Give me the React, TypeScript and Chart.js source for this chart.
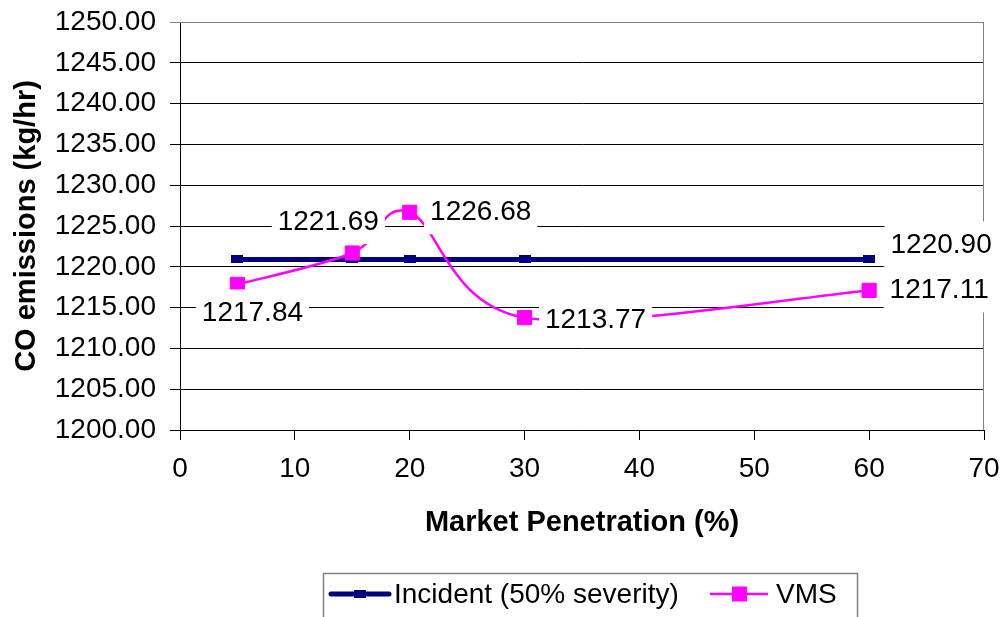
import React, { useEffect, useRef } from "react";
import { Chart, registerables } from "chart.js";

Chart.register(...registerables);

// ---- Data ----
const marketPenetration = [5, 15, 20, 30, 60];
const incidentValues = [1220.9, 1220.9, 1220.9, 1220.9, 1220.9];
const vmsValues = [1217.84, 1221.69, 1226.68, 1213.77, 1217.11];
const seriesNames = ["Incident (50% severity)", "VMS"];
const xTitle = "Market Penetration (%)";
const yTitle = "CO emissions (kg/hr)";
const yMin = 1200;
const yMax = 1250;
const yStep = 5;
const xMin = 0;
const xMax = 70;
const xStep = 10;

// Which data labels are shown (dataset index, point index) and their placement relative to the point
const shownLabels = [
  { ds: 1, idx: 0, dx: 15, dy: 28 },
  { ds: 1, idx: 1, dx: -24, dy: -32 },
  { ds: 1, idx: 2, dx: 71, dy: -1 },
  { ds: 1, idx: 3, dx: 71, dy: 2 },
  { ds: 1, idx: 4, dx: 70, dy: -1 },
  { ds: 0, idx: 4, dx: 72, dy: -15 },
];

const NAVY = "#000080";
const MAGENTA = "#FF00FF";
const FONT = "'Liberation Sans', Arial, Helvetica, sans-serif";

function makeDashMarker(): HTMLCanvasElement {
  const c = document.createElement("canvas");
  c.width = 12;
  c.height = 8;
  const g = c.getContext("2d")!;
  g.fillStyle = NAVY;
  g.fillRect(0, 0, 12, 8);
  return c;
}

// Spreadsheet-style smoothing (Catmull-Rom, 1/6 of neighbour chord) for the VMS line
const smoothPlugin = {
  id: "spreadsheetSmooth",
  beforeDatasetDraw(chart: any, args: any) {
    if (args.index !== 1) return;
    const meta = args.meta;
    const pts = meta.data;
    const n = pts.length;
    for (let i = 0; i < n; i++) {
      const p = pts[i];
      const prev = pts[Math.max(0, i - 1)];
      const next = pts[Math.min(n - 1, i + 1)];
      const dx = (next.x - prev.x) / 6;
      const dy = (next.y - prev.y) / 6;
      p.cp1x = p.x - dx;
      p.cp1y = p.y - dy;
      p.cp2x = p.x + dx;
      p.cp2y = p.y + dy;
    }
    if (meta.dataset) meta.dataset._pointsUpdated = true;
  },
};

const frameBorderPlugin = {
  id: "frameBorder",
  beforeDatasetsDraw(chart: any) {
    const { ctx, chartArea } = chart;
    ctx.save();
    ctx.strokeStyle = "#808080";
    ctx.lineWidth = 1;
    ctx.beginPath();
    ctx.moveTo(chartArea.left, chartArea.top + 0.5);
    ctx.lineTo(chartArea.right - 0.5, chartArea.top + 0.5);
    ctx.lineTo(chartArea.right - 0.5, chartArea.bottom);
    ctx.stroke();
    ctx.restore();
  },
};

const dataLabelPlugin = {
  id: "dataLabels",
  afterDatasetsDraw(chart: any) {
    const { ctx } = chart;
    ctx.save();
    ctx.font = `28px ${FONT}`;
    ctx.textAlign = "center";
    ctx.textBaseline = "middle";
    shownLabels.forEach((l) => {
      const pt = chart.getDatasetMeta(l.ds).data[l.idx];
      const value = (l.ds === 0 ? incidentValues : vmsValues)[l.idx];
      const text = value.toFixed(2);
      const w = ctx.measureText(text).width;
      const cx = pt.x + l.dx;
      const cy = pt.y + l.dy;
      ctx.fillStyle = "#ffffff";
      ctx.fillRect(cx - w / 2 - 6, cy - 23, w + 12, 46);
      ctx.fillStyle = "#000000";
      ctx.fillText(text, cx, cy + 1);
    });
    ctx.restore();
  },
};

const legendPlugin = {
  id: "boxLegend",
  afterDraw(chart: any) {
    const { ctx } = chart;
    ctx.save();
    ctx.strokeStyle = "#808080";
    ctx.lineWidth = 1.5;
    ctx.strokeRect(323.5, 573.5, 534, 60);
    const ly = 594;
    // Incident sample
    ctx.strokeStyle = NAVY;
    ctx.lineWidth = 5;
    ctx.lineCap = "round";
    ctx.beginPath();
    ctx.moveTo(331, ly);
    ctx.lineTo(389, ly);
    ctx.stroke();
    ctx.fillStyle = NAVY;
    ctx.fillRect(354, ly - 4, 12, 8);
    // VMS sample
    ctx.strokeStyle = MAGENTA;
    ctx.lineWidth = 2.5;
    ctx.lineCap = "butt";
    ctx.beginPath();
    ctx.moveTo(710, ly);
    ctx.lineTo(768, ly);
    ctx.stroke();
    ctx.fillStyle = MAGENTA;
    ctx.fillRect(732, ly - 7.5, 15, 15);
    // texts
    ctx.fillStyle = "#000";
    ctx.font = `28px ${FONT}`;
    ctx.textAlign = "left";
    ctx.textBaseline = "middle";
    ctx.fillText(seriesNames[0], 394, ly + 1);
    ctx.fillText(seriesNames[1], 776, ly + 1);
    ctx.restore();
  },
};

export default function App() {
  const ref = useRef<HTMLCanvasElement | null>(null);

  useEffect(() => {
    if (!ref.current) return;
    const dash = makeDashMarker();
    const chart = new Chart(ref.current, {
      type: "line",
      data: {
        datasets: [
          {
            label: seriesNames[0],
            data: marketPenetration.map((x, i) => ({ x, y: incidentValues[i] })),
            borderColor: NAVY,
            backgroundColor: NAVY,
            borderWidth: 5,
            borderCapStyle: "round",
            pointStyle: dash as any,
            pointRadius: 5,
            tension: 0,
            order: 2,
          },
          {
            label: seriesNames[1],
            data: marketPenetration.map((x, i) => ({ x, y: vmsValues[i] })),
            borderColor: MAGENTA,
            backgroundColor: MAGENTA,
            borderWidth: 2.5,
            pointStyle: "rect",
            pointRadius: 10,
            pointBorderWidth: 1,
            tension: 0.4,
            order: 1,
          },
        ],
      },
      options: {
        responsive: false,
        animation: false,
        devicePixelRatio: 1,
        layout: { padding: { top: 22, right: 22, bottom: 0, left: 0 } },
        plugins: {
          legend: { display: false },
          tooltip: { enabled: false },
        },
        scales: {
          x: {
            type: "linear",
            min: xMin,
            max: xMax,
            afterFit(scale: any) {
              scale.height = 187;
              scale.paddingLeft = 0;
              scale.paddingRight = 0;
            },
            ticks: {
              stepSize: xStep,
              padding: 12,
              color: "#000",
              font: { family: FONT, size: 28 },
            },
            grid: {
              drawOnChartArea: false,
              drawTicks: true,
              tickLength: 10,
              color: "#000",
            },
            border: { display: true, color: "#000", width: 1 },
            title: {
              display: true,
              text: xTitle,
              color: "#000",
              font: { family: FONT, size: 29, weight: "bold" },
              padding: { top: 0, bottom: 77 },
            },
          },
          y: {
            type: "linear",
            min: yMin,
            max: yMax,
            afterFit(scale: any) {
              scale.width = 180;
              scale.paddingTop = 0;
              scale.paddingBottom = 0;
            },
            ticks: {
              stepSize: yStep,
              padding: 14,
              color: "#000",
              font: { family: FONT, size: 28 },
              callback: (v: any) => Number(v).toFixed(2),
            },
            grid: {
              color: (c: any) => (c.tick && c.tick.value === yMax ? "#808080" : "#000"),
              lineWidth: 1,
              drawTicks: true,
              tickLength: 10,
            },
            border: { display: true, color: "#000", width: 1 },
            title: {
              display: true,
              text: yTitle,
              color: "#000",
              font: { family: FONT, size: 29, weight: "bold" },
              padding: { top: 10, bottom: 0 },
            },
          },
        },
      },
      plugins: [smoothPlugin, frameBorderPlugin, dataLabelPlugin, legendPlugin],
    });
    return () => chart.destroy();
  }, []);

  return (
    <div style={{ position: "absolute", left: 0, top: 0, width: 1006, height: 617, background: "#fff" }}>
      <canvas ref={ref} width={1006} height={617} style={{ display: "block" }} />
    </div>
  );
}
